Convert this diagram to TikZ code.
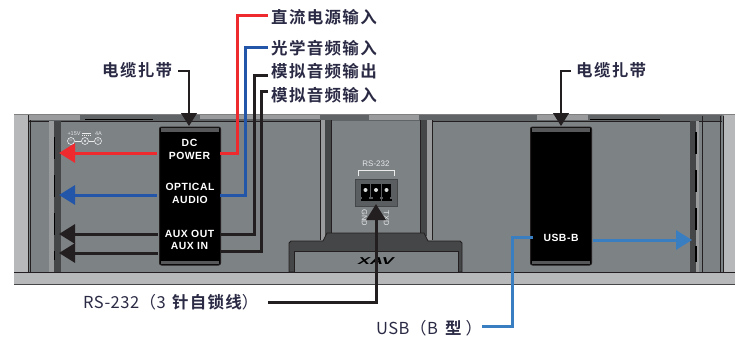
\documentclass[tikz,border=0pt]{standalone}
\usepackage{fontspec}
\setsansfont{Liberation Sans}
\newfontfamily\cjk[LetterSpace=8]{Noto Sans CJK SC Bold}
\newfontfamily\cjkthin[LetterSpace=3]{Noto Sans CJK SC}
\newfontfamily\portfont[LetterSpace=5]{Liberation Sans Bold}
\usetikzlibrary{arrows.meta}
\definecolor{panelgray}{HTML}{7D8285}
\definecolor{lightgray}{HTML}{B7B8BA}
\definecolor{midgray}{HTML}{999B9D}
\definecolor{darkgray}{HTML}{454647}
\definecolor{inkblack}{HTML}{231F20}
\definecolor{labelink}{HTML}{2A2A45}
\definecolor{powerred}{HTML}{EE2A2E}
\definecolor{audioblue}{HTML}{2356A8}
\definecolor{usbblue}{HTML}{3A7EC2}
\tikzstyle{callout}=[text=labelink,font=\cjk\fontsize{16.5}{17}\selectfont,inner sep=0pt]
\tikzstyle{calloutmix}=[text=labelink,font=\cjkthin\fontsize{16.5}{17}\selectfont,inner sep=0pt]
\tikzstyle{portband}=[fill=black,draw=inkblack,line width=1pt,rounded corners=2pt]
\tikzstyle{bandcap}=[fill=darkgray!70!panelgray,draw=none]
\tikzstyle{portlabel}=[text=white,font=\portfont\fontsize{10.4}{12.4}\selectfont,align=center,inner sep=0pt]
\tikzstyle{silk}=[text=white!80!panelgray,font=\sffamily\fontsize{7}{7}\selectfont,inner sep=0pt]
\tikzstyle{polar}=[draw=white!85!panelgray,text=white!85!panelgray,circle,line width=0.6pt,minimum size=7pt,inner sep=0pt,font=\sffamily\fontsize{6}{6}\selectfont]
\tikzstyle{wire}=[line width=3pt]
\tikzstyle{thinwire}=[line width=1.1pt,inkblack]
\tikzstyle{tiparrow}=[-{Triangle[length=16pt,width=19pt]}]
\tikzstyle{shell}=[draw=inkblack,line width=0.8pt]

\begin{document}
\begin{tikzpicture}[x=1pt,y=-1pt]
\useasboundingbox (0,0) rectangle (743,337);

% chassis
\fill[panelgray] (14,114) rectangle (735,272);
\fill[lightgray] (14,115) rectangle (28,272);
\fill[lightgray] (724,115) rectangle (735,272);
\fill[lightgray] (14,272) rectangle (735,284);
\draw[shell] (14,272) -- (735,272);
\draw[shell,draw=darkgray] (14,284) -- (735,284);
\draw[shell,draw=gray] (14,114) -- (735,114);
\fill[darkgray!50!panelgray] (29,115) rectangle (722,121);
\fill[midgray] (29,115) rectangle (80,120);
\fill[midgray] (200,115) rectangle (320,119);
\fill[midgray] (369,115) rectangle (419,120);
\fill[midgray] (537,115) rectangle (588,120);
\draw[shell] (29,121) -- (320,121);
\draw[shell] (431,121) -- (722,121);
\draw[line width=1.6pt,black] (85,119.5) -- (153,119.5) (590,119.5) -- (660,119.5);
\draw[shell] (28,115) -- (28,272);
\draw[shell] (30,120) -- (30,272);
\draw[shell] (702,116) -- (702,272);
\draw[shell] (720,116) -- (720,272);
\draw[shell] (723,116) -- (723,272);

% side rails
\fill[midgray] (49,121) rectangle (54,272);
\fill[darkgray] (54,121) rectangle (61,272);
\draw[line width=1.2pt,black,dash pattern=on 22pt off 16pt] (54.5,137) -- (54.5,260);
\fill[darkgray] (690,121) rectangle (696,272);
\fill[midgray] (696,121) rectangle (699,272);
\draw[line width=1.2pt,black,dash pattern=on 22pt off 16pt] (696,132) -- (696,262);

% centre posts
\fill[midgray] (320,120) rectangle (325,240);
\fill[darkgray] (325,120) rectangle (331,236);
\fill[darkgray] (420,120) rectangle (427,236);
\fill[midgray] (427,120) rectangle (432,240);
\draw[shell] (320,120) -- (320,240) (331,120) -- (331,233) (420,120) -- (420,233) (432,120) -- (432,240);

% handle with logo
\fill[darkgray,shell] (289,272) -- (289,243) -- (291,241) -- (323,241) -- (327,233) -- (424,233) -- (428,241) -- (460,241) -- (462,243) -- (462,272) -- cycle;
\fill[panelgray,shell] (294,272) -- (294,251) -- (458,251) -- (458,272) -- cycle;
\node[font=\sffamily\bfseries\itshape\fontsize{10}{10}\selectfont,text=black,xscale=1.8,inner sep=0pt] (logo) at (376,261) {XAV};

% RS-232 block
\node[silk,font=\sffamily\fontsize{8}{8}\selectfont] (rstext) at (376,164) {RS-232};
\draw[line width=0.8pt,white!85!panelgray] (358,176) -- (358,170) -- (394,170) -- (394,176);
\fill[darkgray!60!panelgray,draw=darkgray] (355,179) rectangle (397,206);
\foreach \px in {365.5,376,386.5}{
  \fill[black] (\px-4.8,184) rectangle (\px+4.8,197);
  \fill[black] (\px-3.5,197) rectangle (\px+3.5,200);
  \fill[black] (\px-5,199) rectangle (\px+5,201);
  \fill[white!70!panelgray] (\px,190) circle (2pt);
}
\node[silk,rotate=-90,font=\sffamily\fontsize{7.5}{8}\selectfont] (gnd) at (364.5,218) {GND};
\node[silk,rotate=-90,font=\sffamily\fontsize{7.5}{8}\selectfont] (txd) at (386.5,218) {TXD};

% cable ties
\node[portband,minimum width=61pt,minimum height=138pt,inner sep=0pt] (tieL) at (190,196) {};
\node[portband,minimum width=61pt,minimum height=138pt,inner sep=0pt] (tieR) at (561,196) {};
\fill[bandcap] (161,128) rectangle (219,132);
\fill[bandcap] (161,261) rectangle (219,264);
\fill[bandcap] (532,128) rectangle (590,132);
\fill[bandcap] (532,261) rectangle (590,264);

\node[portlabel] (dc) at (189.5,149.5) {DC\\POWER};
\node[portlabel] (optical) at (190,193.5) {OPTICAL\\AUDIO};
\node[portlabel] (aux) at (189.5,240) {AUX OUT\\AUX IN};
\node[portlabel] (usbb) at (561,237.5) {USB-B};

% callouts
\node[callout,anchor=west] (dcin) at (271,17) {直流电源输入};
\node[callout,anchor=west] (optin) at (271,48) {光学音频输入};
\node[callout,anchor=west] (auxout) at (271,71) {模拟音频输出};
\node[callout,anchor=west] (auxin) at (271,95) {模拟音频输入};
\node[callout,anchor=west] (tieA) at (102,70) {电缆扎带};
\node[callout,anchor=west] (tieB) at (576,70) {电缆扎带};
\node[calloutmix,anchor=west] (rsin) at (83,302) {RS-232（3\hspace{2pt} {\cjk 针自锁线}）};
\node[calloutmix,anchor=west] (usbin) at (376,328) {USB（B\hspace{3pt} {\cjk 型}\hspace{4pt}）};

\coordinate (dcL) at (59,153);
\coordinate (optL) at (59,195);
\coordinate (outL) at (59,234);
\coordinate (inL) at (59,253);
\coordinate (usbR) at (692,240);
\coordinate (rsT) at (376,204);
\coordinate (tieAT) at (189,126);
\coordinate (tieBT) at (561,126);

% leaders
\draw[wire,powerred,tiparrow] (157,153) -- (dcL);
\draw[wire,powerred] (220,153) -| (237,16) -- (268,16);
\draw[wire,audioblue,tiparrow] (157,195) -- (optL);
\draw[wire,audioblue] (220,195) -| (245,48) -- (268,48);
\draw[wire,inkblack,tiparrow] (158,234) -- (outL);
\draw[wire,inkblack] (221,234) -| (254,75) -- (268,75);
\draw[wire,inkblack,tiparrow] (158,253) -- (inL);
\draw[wire,inkblack] (221,251) -| (261,91) -- (268,91);
\draw[wire,usbblue,tiparrow] (593,240) -- (usbR);
\draw[wire,usbblue] (533,237) -| (512,326) -- (482,326);
\draw[wire,inkblack,tiparrow] (268,302) -| (rsT);
\draw[thinwire,-{Triangle[length=13pt,width=16pt]}] (178,71) -| (tieAT);
\draw[thinwire,-{Triangle[length=13pt,width=16pt]}] (571,71) -| (tieBT);

% DC polarity mark
\node[silk,font=\sffamily\fontsize{5.5}{6}\selectfont] (volt) at (74,134) {+15V};
\node[silk,font=\sffamily\fontsize{5.5}{6}\selectfont] (amp) at (98.5,134) {4A};
\draw[white!85!panelgray,line width=0.6pt] (82,133) -- (91,133);
\draw[white!85!panelgray,line width=0.6pt,dash pattern=on 1pt off 1pt] (82,135) -- (91,135);
\node[polar] (polA) at (71,141) {−};
\node[polar] (polB) at (85,141) {};
\node[polar] (polC) at (98,141) {+};
\fill[white!85!panelgray] (polB) circle (1.2pt);
\draw[white!85!panelgray,line width=0.6pt] (polA) -- (polB) (polB) -- (polC);
\end{tikzpicture}
\end{document}
